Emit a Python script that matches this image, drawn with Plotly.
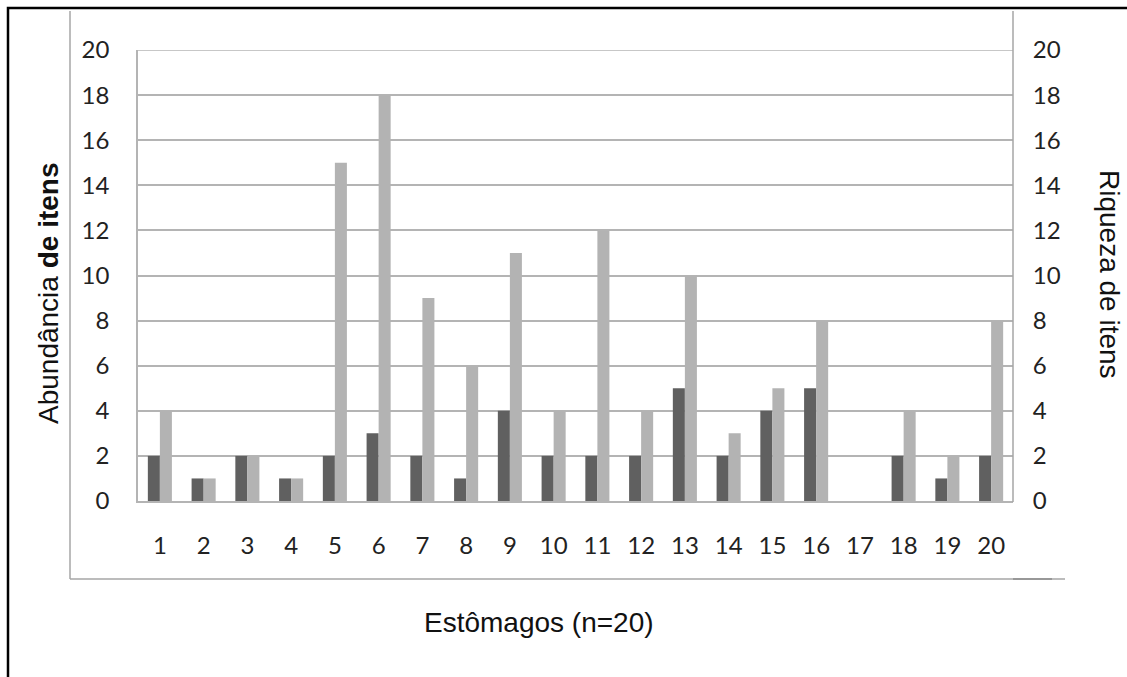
import plotly.graph_objects as go

categories = [str(i) for i in range(1, 21)]
abundancia = [2, 1, 2, 1, 2, 3, 2, 1, 4, 2, 2, 2, 5, 2, 4, 5, 0, 2, 1, 2]
riqueza = [4, 1, 2, 1, 15, 18, 9, 6, 11, 4, 12, 4, 10, 3, 5, 8, 0, 4, 2, 8]
y_ticks = list(range(0, 21, 2))

W, H = 1127, 677
L, R, T, B = 138, 1013, 50, 501  # plot area in px


def px(x):
    return (x - L) / (R - L)


def py(y):
    return (B - y) / (B - T)


fig = go.Figure()
fig.add_trace(go.Bar(x=categories, y=abundancia, name="Abundância",
                     marker=dict(color="#606060", line=dict(width=0)),
                     offsetgroup="a", yaxis="y"))
fig.add_trace(go.Bar(x=categories, y=riqueza, name="Riqueza",
                     marker=dict(color="#b3b3b3", line=dict(width=0)),
                     offsetgroup="b", yaxis="y2"))

tickfont = dict(family="Lato, sans-serif", size=24, color="#222222")
grid = "#b4b4b4"

fig.update_layout(
    width=W, height=H,
    margin=dict(l=L, r=W - R, t=T, b=H - B, pad=0),
    paper_bgcolor="white", plot_bgcolor="white",
    barmode="group", bargap=0.45, bargroupgap=0,
    showlegend=False,
    xaxis=dict(type="category", tickfont=tickfont, ticks="outside", ticklen=22,
               tickcolor="rgba(0,0,0,0)", showgrid=False, showline=True,
               linecolor=grid, linewidth=1.5, fixedrange=True),
    yaxis=dict(range=[0, 20], tickvals=y_ticks, tickfont=tickfont,
               ticks="outside", ticklen=22, tickcolor="rgba(0,0,0,0)",
               showgrid=True, gridcolor=grid, gridwidth=1.5, zeroline=False,
               showline=True, linecolor=grid, linewidth=1.5, fixedrange=True),
    yaxis2=dict(range=[0, 20], tickvals=y_ticks, tickfont=tickfont,
                overlaying="y", side="right", ticks="outside", ticklen=14,
                tickcolor="rgba(0,0,0,0)", showgrid=False, zeroline=False,
                showline=False, fixedrange=True),
)

line_gray = dict(color="#a6a6a6", width=1.5)
shapes = [
    # outer black border
    dict(type="rect", xref="paper", yref="paper", x0=px(8), x1=px(1160),
         y0=py(8), y1=py(720), line=dict(color="black", width=2.5)),
    # top gridline (value 20)
    dict(type="line", xref="paper", yref="y", x0=0, x1=1, y0=20, y1=20,
         line=dict(color=grid, width=1.5)),
    # chart frame left
    dict(type="line", xref="paper", yref="paper", x0=px(70), x1=px(70),
         y0=py(11), y1=py(579), line=line_gray),
    # chart frame bottom
    dict(type="line", xref="paper", yref="paper", x0=px(70), x1=px(1065),
         y0=py(579), y1=py(579), line=line_gray),
    dict(type="line", xref="paper", yref="paper", x0=px(1013), x1=px(1052),
         y0=py(579), y1=py(579), line=dict(color="#8c8c8c", width=1.5)),
    # right vertical axis line
    dict(type="line", xref="paper", yref="paper", x0=px(1013), x1=px(1013),
         y0=py(11), y1=py(502), line=line_gray),
]
fig.update_layout(shapes=shapes)

titlefont = dict(family="Liberation Sans, Arial, sans-serif", size=28, color="#111111")
fig.add_annotation(text="Abundância <b>de itens</b>", xref="paper", yref="paper",
                   x=px(48), y=py(293), textangle=-90, showarrow=False,
                   xanchor="center", yanchor="middle", font=titlefont)
fig.add_annotation(text="Riqueza de itens", xref="paper", yref="paper",
                   x=px(1110), y=py(274), textangle=90, showarrow=False,
                   xanchor="center", yanchor="middle", font=titlefont)
fig.add_annotation(text="Estômagos (n=20)", xref="paper", yref="paper",
                   x=px(539), y=py(622), showarrow=False,
                   xanchor="center", yanchor="middle", font=titlefont)

fig.write_html("out.html")
